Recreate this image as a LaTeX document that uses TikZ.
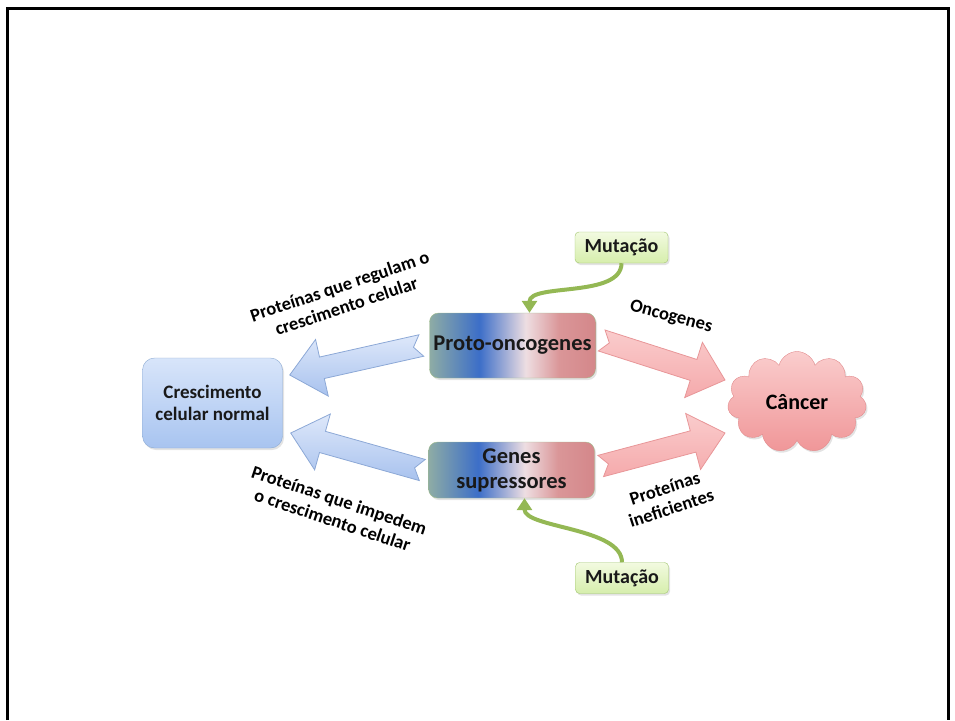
\documentclass[tikz,border=0pt]{standalone}
\usepackage{fontspec}
\setmainfont{Carlito}
\usetikzlibrary{calc,shapes.symbols,shadows,backgrounds,arrows.meta}

\definecolor{normaltop}{RGB}{216,229,250}
\definecolor{normalbot}{RGB}{168,196,240}
\definecolor{normalline}{RGB}{140,170,210}
\definecolor{bluetop}{RGB}{222,232,250}
\definecolor{bluebot}{RGB}{168,194,238}
\definecolor{blueline}{RGB}{140,168,214}
\definecolor{redtop}{RGB}{250,204,204}
\definecolor{redbot}{RGB}{245,170,172}
\definecolor{redline}{RGB}{232,150,152}
\definecolor{cloudtop}{RGB}{250,205,205}
\definecolor{cloudbot}{RGB}{240,150,152}
\definecolor{cloudline}{RGB}{226,140,142}
\definecolor{muttop}{RGB}{242,250,224}
\definecolor{mutbot}{RGB}{214,238,172}
\definecolor{mutline}{RGB}{160,196,110}
\definecolor{mutgreen}{RGB}{148,184,84}
\definecolor{geneline}{RGB}{160,188,140}
\definecolor{geneA}{RGB}{142,172,165}
\definecolor{geneB}{RGB}{60,110,200}
\definecolor{geneC}{RGB}{238,222,226}
\definecolor{geneD}{RGB}{218,150,152}
\definecolor{geneE}{RGB}{212,135,138}

\pgfdeclarehorizontalshading{geneshade}{100bp}{color(0bp)=(geneA); color(25bp)=(geneA);
  color(40bp)=(geneB); color(54bp)=(geneC); color(64bp)=(geneD); color(75bp)=(geneE); color(100bp)=(geneE)}

\begin{document}
\begin{tikzpicture}[x=1pt, y=-1pt,
  box/.style={rounded corners=9pt, align=center, inner sep=0pt, text=black!90,
    drop shadow={opacity=0.22, shadow xshift=1.5pt, shadow yshift=-2pt}},
  normalbox/.style={box, draw=normalline, top color=normaltop, bottom color=normalbot,
    minimum width=140pt, minimum height=90pt, rounded corners=12pt, font=\fontsize{19}{22}\bfseries},
  genebox/.style={box, draw=geneline, shading=geneshade, minimum width=166pt,
    font=\fontsize{22.5}{25}\bfseries},
  mutbox/.style={box, draw=mutline, top color=muttop, bottom color=mutbot,
    minimum width=93pt, minimum height=31pt, rounded corners=4pt, font=\fontsize{20}{22}\bfseries},
  cancercloud/.style={cloud, cloud puffs=11, aspect=1.4, draw=cloudline, top color=cloudtop,
    bottom color=cloudbot, minimum width=139pt, minimum height=101pt, inner sep=0pt,
    font=\fontsize{22}{24}\bfseries, drop shadow={opacity=0.22, shadow xshift=1.5pt, shadow yshift=-2pt}},
  lbl/.style={font=\fontsize{18.5}{21}\bfseries, align=center, inner sep=0pt},
  bluearrow/.style={draw=blueline, top color=bluetop, bottom color=bluebot, line width=0.8pt},
  redarrow/.style={draw=redline, top color=redtop, bottom color=redbot, line width=0.8pt},
  mutarrow/.style={draw=mutgreen, line width=4pt, -{Triangle[width=15pt,length=12pt]}}]
\def\FatArrow#1#2#3{
\path[#1] let \p1=(#2), \p2=(#3), \n1={atan2(\y2-\y1,\x2-\x1)}, \n2={veclen(\x2-\x1,\y2-\y1)} in
  ([shift={(\p1)},rotate=\n1]0,-11) -- ([shift={(\p1)},rotate=\n1]\n2-33,-11)
  -- ([shift={(\p1)},rotate=\n1]\n2-33,-29) -- ([shift={(\p1)},rotate=\n1]\n2,0)
  -- ([shift={(\p1)},rotate=\n1]\n2-33,29) -- ([shift={(\p1)},rotate=\n1]\n2-33,11)
  -- ([shift={(\p1)},rotate=\n1]0,11) -- ([shift={(\p1)},rotate=\n1]8,0) -- cycle;
}
\useasboundingbox (0,0) rectangle (955,720);
\draw[line width=3pt] (7.5,720) -- (7.5,8) -- (948.5,8) -- (948.5,720);

\node[normalbox] (normal) at (212.5,403) {Crescimento\\celular normal};
\node[genebox, minimum height=65pt] (proto) at (512.5,345.5) {Proto-oncogenes};
\node[genebox, minimum height=56pt] (genes) at (511.5,470) {Genes\\supressores};
\node[mutbox] (mtop) at (621.5,247.5) {Mutação};
\node[mutbox] (mbot) at (622,578) {Mutação};
\node[cancercloud] (cancer) at (797,402) {Câncer};

\node[lbl, rotate=18.6] (lblreg) at (343,296) {Proteínas que regulam o\\crescimento celular};
\node[lbl, rotate=-15] (lblonc) at (671,317) {Oncogenes};
\node[lbl, rotate=-18.5] (lblimp) at (336,510) {Proteínas que impedem\\o crescimento celular};
\node[lbl, rotate=18] (lblinef) at (668,498) {Proteínas\\ineficientes};

\begin{scope}[on background layer]
\FatArrow{bluearrow}{[xshift=-8pt]proto.west}{[xshift=7pt,yshift=28pt]normal.east}
\FatArrow{bluearrow}{[xshift=-6pt]genes.west}{[xshift=8pt,yshift=-30pt]normal.east}
\FatArrow{redarrow}{[xshift=6pt,yshift=5pt]proto.east}{[xshift=-72pt,yshift=22pt]cancer.center}
\FatArrow{redarrow}{[xshift=6pt,yshift=4pt]genes.east}{[xshift=-72pt,yshift=-31pt]cancer.center}
\end{scope}

\draw[mutarrow] (mtop.south) .. controls +(0,35) and +(0,-30) .. ([xshift=17pt]proto.north);
\draw[mutarrow] (mbot.north) .. controls +(0,-35) and +(0,30) .. ([xshift=13pt]genes.south);
\end{tikzpicture}
\end{document}
